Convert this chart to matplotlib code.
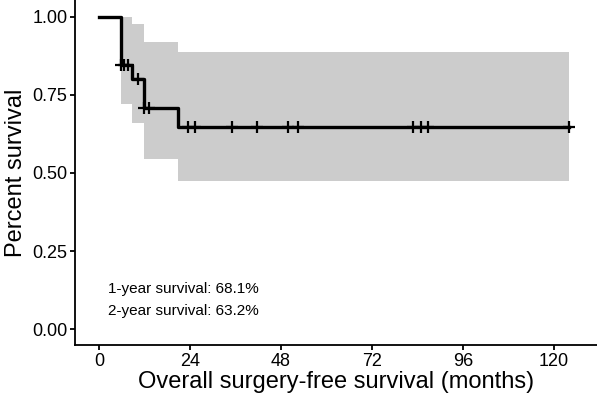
import matplotlib
matplotlib.use('Agg')
import matplotlib.pyplot as plt
import numpy as np

plt.rcParams['font.family'] = ['Liberation Sans', 'DejaVu Sans']

# Kaplan-Meier estimate (months)
step_times = [0, 5.8, 8.8, 11.8, 20.8, 124.0]
surv = [1.0, 0.846, 0.800, 0.707, 0.648, 0.648]
ci_upper = [1.0, 0.999, 0.977, 0.919, 0.887, 0.887]
ci_lower = [1.0, 0.720, 0.661, 0.545, 0.475, 0.475]

# censored observations
cens_times = [5.8, 6.7, 7.6, 10.4, 11.8, 13.3, 23.4, 25.4, 35.0, 41.8,
              49.8, 52.6, 82.8, 84.9, 86.8, 124.0]

notes = ['1-year survival: 68.1%', '2-year survival: 63.2%']

def surv_at(t):
    idx = np.searchsorted(step_times, t, side='right') - 1
    return surv[idx]

fig = plt.figure(figsize=(5.97, 4.01), dpi=100)
ax = fig.add_axes([0.1256, 0.1397, 0.8744, 0.8603])

ax.fill_between(step_times[1:], ci_lower[1:], ci_upper[1:], step='post',
                color='#cccccc', linewidth=0)
ax.step(step_times, surv, where='post', color='black', linewidth=2.4)
cy = [surv_at(t) for t in cens_times]
ax.plot(cens_times, cy, linestyle='none', marker='+', color='black',
        markersize=8, markeredgewidth=1.6)

ax.text(2.4, 0.128, notes[0], fontsize=11, va='center', ha='left')
ax.text(2.4, 0.058, notes[1], fontsize=11, va='center', ha='left')

ax.set_xlim(-6.3, 131.4)
ax.set_ylim(-0.051, 1.054)
ax.set_xticks([0, 24, 48, 72, 96, 120])
ax.set_yticks([0, 0.25, 0.5, 0.75, 1.0])
ax.set_yticklabels(['0.00', '0.25', '0.50', '0.75', '1.00'])

for s in ['top', 'right']:
    ax.spines[s].set_visible(False)
for s in ['left', 'bottom']:
    ax.spines[s].set_linewidth(1.3)
ax.tick_params(direction='out', length=3.5, width=1.3, labelsize=13, colors='black', pad=2)

ax.set_xlabel('Overall surgery-free survival (months)', fontsize=17, labelpad=1)
ax.set_ylabel('Percent survival', fontsize=17, labelpad=4)

fig.savefig('out.png', dpi=100)
